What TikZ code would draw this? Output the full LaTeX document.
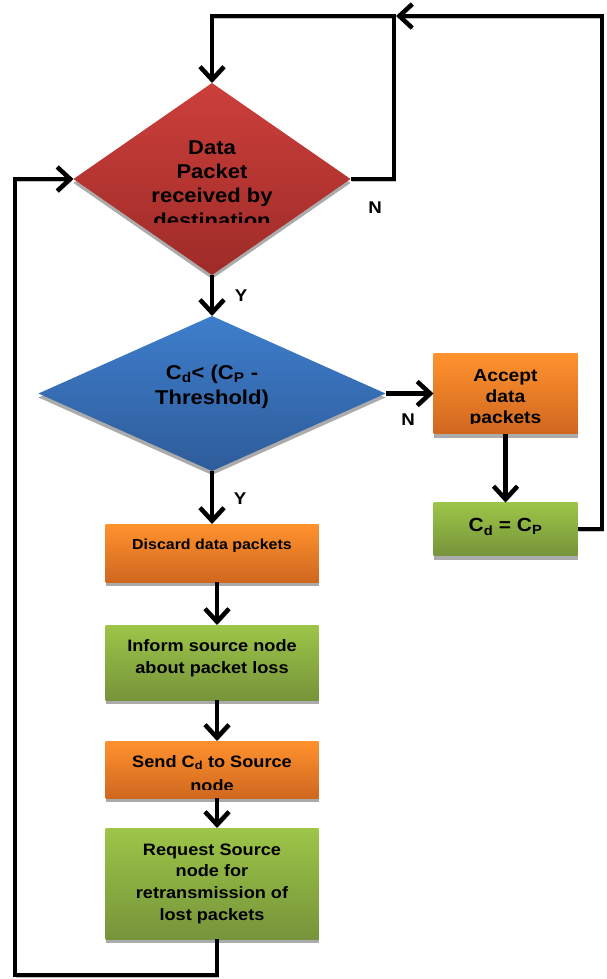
\documentclass[tikz,border=0pt]{standalone}
\usepackage{fontspec}
\setmainfont[FakeStretch=1.1]{Liberation Sans}
\usetikzlibrary{positioning,shapes.geometric,shadows,arrows.meta}

\definecolor{rougehaut}{HTML}{CC3F3B}
\definecolor{rougebas}{HTML}{9E2B28}
\definecolor{bleuhaut}{HTML}{3E7ECC}
\definecolor{bleubas}{HTML}{2E5C9A}
\definecolor{orangehaut}{HTML}{FF922E}
\definecolor{orangebas}{HTML}{D0671F}
\definecolor{verthaut}{HTML}{9DC548}
\definecolor{vertbas}{HTML}{76943A}

\begin{document}
\begin{tikzpicture}[
      x=1pt, y=-1pt,
      node distance=44pt,
      ombre/.style={
        drop shadow={shadow xshift=0pt, shadow yshift=-4pt,
          fill=black!33, opacity=1}
      },
      losange/.style={
        diamond,
        inner sep=0pt,
        outer sep=0pt,
        ombre
      },
      boite/.style={
        rectangle,
        inner sep=0pt,
        outer sep=0pt,
        ombre
      },
      texte/.style={
        align=center,
        inner sep=0pt,
        font=\bfseries\fontsize{16.5}{22}\selectfont
      },
      etiq/.style={
        inner sep=0pt,
        font=\bfseries\fontsize{17}{20}\selectfont
      },
      fleche/.style={
        line width=4.5pt,
        -{Straight Barb[length=13pt,width=24pt]},
        preaction={draw=black!25, transform canvas={shift={(1.5pt,-2pt)}}}
      }
    ]
    \useasboundingbox (0,0) rectangle (606,979);

    % formes
    \node[losange, minimum width=277pt, minimum height=192pt,
      top color=rougehaut, bottom color=rougebas] (d1) at (212,179) {};
    \node[losange, minimum width=347pt, minimum height=155pt,
      top color=bleuhaut, bottom color=bleubas, below=41pt of d1] (d2) {};
    \node[boite, minimum width=144pt, minimum height=80pt,
      top color=orangehaut, bottom color=orangebas, right=48pt of d2] (accept) {};
    \node[boite, minimum width=144pt, minimum height=53pt,
      top color=verthaut, bottom color=vertbas, below=69pt of accept] (cdcp) {};
    \node[boite, minimum width=213pt, minimum height=58pt,
      top color=orangehaut, bottom color=orangebas, below=53pt of d2] (discard) {};
    \node[boite, minimum width=213pt, minimum height=75pt,
      top color=verthaut, bottom color=vertbas, below=43pt of discard] (inform) {};
    \node[boite, minimum width=213pt, minimum height=57pt,
      top color=orangehaut, bottom color=orangebas, below=41pt of inform] (send) {};
    \node[boite, minimum width=213pt, minimum height=111pt,
      top color=verthaut, bottom color=vertbas, below=30pt of send] (request) {};

    % textes
    \begin{scope}
      \clip (80,110) rectangle (340,222);
      \node[texte, font=\bfseries\fontsize{20}{24.2}\selectfont]
        (d1txt) at ([yshift=-5pt]d1.center) {Data\\Packet\\received by\\destination};
    \end{scope}
    \node[texte, font=\bfseries\fontsize{20}{25}\selectfont]
      (d2txt) at ([yshift=7pt]d2.center) {C\textsubscript{d}< (C\textsubscript{P} -\\Threshold)};
    \begin{scope}
      \clip (accept.north west) rectangle (577,423.5);
      \node[texte, font=\bfseries\fontsize{17.5}{21}\selectfont]
        (accepttxt) at ([yshift=-4.5pt]accept.center) {Accept\\data\\packets};
    \end{scope}
    \node[texte, font=\bfseries\fontsize{19}{24}\selectfont]
      (cdcptxt) at ([yshift=2pt]cdcp.center) {C\textsubscript{d} = C\textsubscript{P}};
    \node[texte, font=\bfseries\fontsize{14.5}{18}\selectfont]
      (discardtxt) at ([yshift=7.5pt]discard.center) {Discard data packets};
    \node[texte] (informtxt) at ([yshift=4.5pt]inform.center)
      {Inform source node\\about packet loss};
    \begin{scope}
      \clip (send.north west) rectangle (318,789.5);
      \node[texte, font=\bfseries\fontsize{16.5}{24}\selectfont]
        (sendtxt) at ([yshift=-4pt]send.center)
        {Send C\textsubscript{d} to Source\\node};
    \end{scope}
    \node[texte, font=\bfseries\fontsize{16.5}{21.7}\selectfont]
      (requesttxt) at (request.center)
      {Request Source\\node for\\retransmission of\\lost packets};

    % etiquettes
    \node[etiq] (n1) at (375,208) {N};
    \node[etiq] (y1) at (241,296) {Y};
    \node[etiq] (n2) at (408,420) {N};
    \node[etiq] (y2) at (240,499) {Y};

    % points de retour
    \coordinate (haut) at (394,16);
    \coordinate (coinhd) at (602,16);
    \coordinate (bas) at (15,975);

    % fleches
    \draw[fleche] (d1.south) -- (d2.north);
    \draw[fleche] (d2.south) -- (discard.north);
    \draw[fleche] ([xshift=5pt]discard.south) -- ([xshift=5pt]inform.north);
    \draw[fleche] ([xshift=5pt]inform.south) -- ([xshift=5pt]send.north);
    \draw[fleche] ([xshift=5pt]send.south) -- ([xshift=5pt]request.north);
    \draw[fleche] (d2.east) -- (d2.east -| accept.west);
    \draw[fleche] (accept.south) -- (cdcp.north);
    \draw[fleche] (d1.east) -| (haut) -- (haut -| d1.north) -- (d1.north);
    \draw[fleche] (cdcp.east) -| (coinhd) -- ([xshift=2pt]haut);
    \draw[fleche] ([xshift=5pt]request.south) |- (bas) |- (d1.west);

  \end{tikzpicture}
\end{document}
